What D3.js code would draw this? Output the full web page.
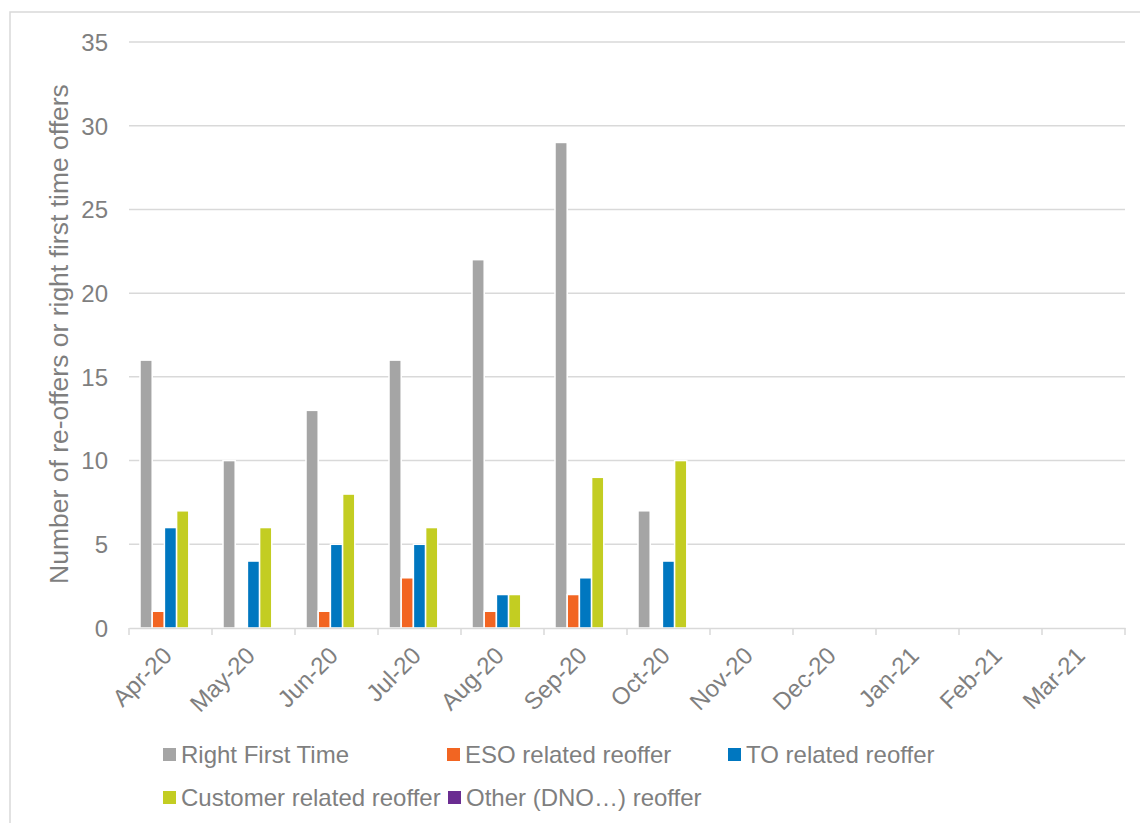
<!DOCTYPE html>
<html><head><meta charset="utf-8">
<script src="https://cdn.jsdelivr.net/npm/d3@7"></script>
<style>body{margin:0;background:#fff}svg{display:block}text{font-family:"Liberation Sans",Arial,sans-serif}</style>
</head><body>
<svg id="chart" width="1140" height="823"></svg>
<script>
const categories = ["Apr-20","May-20","Jun-20","Jul-20","Aug-20","Sep-20","Oct-20","Nov-20","Dec-20","Jan-21","Feb-21","Mar-21"];
const seriesNames = ["Right First Time","ESO related reoffer","TO related reoffer","Customer related reoffer","Other (DNO\u2026) reoffer"];
const seriesColors = ["#A5A5A5","#F26522","#0077C0","#C3CD22","#6A2C91"];
const rightFirstTime = [16,10,13,16,22,29,7,0,0,0,0,0];
const esoReoffer     = [1,0,1,3,1,2,0,0,0,0,0,0];
const toReoffer      = [6,4,5,5,2,3,4,0,0,0,0,0];
const customerReoffer= [7,6,8,6,2,9,10,0,0,0,0,0];
const otherReoffer   = [0,0,0,0,0,0,0,0,0,0,0,0];
const yTicks = [0,5,10,15,20,25,30,35];
const allSeries = [rightFirstTime, esoReoffer, toReoffer, customerReoffer, otherReoffer];

const svg = d3.select("#chart");
const textColor = "#7F7F7F", gridColor = "#D9D9D9";
const L = 129, R = 1125, T = 42, B = 628;

svg.append("rect").attr("x",10).attr("y",12).attr("width",1200).attr("height",900)
  .attr("fill","none").attr("stroke",gridColor).attr("stroke-width",1.5);

const x0 = d3.scaleBand().domain(categories).range([L,R]).padding(0);
const gap = 22;
const x1 = d3.scaleBand().domain(d3.range(seriesNames.length)).range([gap/2, x0.bandwidth()-gap/2]).padding(0);
const y = d3.scaleLinear().domain([0,35]).range([B,T]);

// gridlines
svg.append("g").selectAll("line").data(yTicks.filter(d=>d>0)).join("line")
  .attr("x1",L).attr("x2",R).attr("y1",d=>y(d)).attr("y2",d=>y(d))
  .attr("stroke",gridColor).attr("stroke-width",1.5);

// y axis labels
const yAxis = d3.axisLeft(y).tickValues(yTicks).tickSize(0).tickPadding(0);
const yg = svg.append("g").attr("transform",`translate(${L-21},0)`).call(yAxis);
yg.select(".domain").remove();
yg.selectAll("text").attr("fill",textColor).style("font-size","24px").attr("dy","0.35em");

// bars
const groups = svg.append("g").selectAll("g").data(categories).join("g")
  .attr("transform",d=>`translate(${x0(d)},0)`);
groups.selectAll("rect").data((c,i)=>allSeries.map((s,j)=>({j,v:s[i]})).filter(d=>d.v>0)).join("rect")
  .attr("x",d=>x1(d.j)).attr("width",x1.bandwidth())
  .attr("y",d=>y(d.v)).attr("height",d=>y(0)-y(d.v))
  .attr("fill",d=>seriesColors[d.j]).attr("stroke","#fff").attr("stroke-width",1.5);

// x axis
const xAxis = d3.axisBottom(x0).tickSize(0).tickPadding(0);
const xg = svg.append("g").attr("transform",`translate(0,${B})`).call(xAxis);
xg.select(".domain").attr("stroke",gridColor).attr("stroke-width",1.5);
xg.selectAll(".tick text").attr("fill",textColor).style("font-size","24px")
  .attr("text-anchor","end").attr("dy",null).attr("y",0)
  .attr("transform","translate(3,29) rotate(-45)");
svg.append("g").selectAll("line").data(categories.concat([null])).join("line")
  .attr("x1",(d,i)=>L+i*x0.bandwidth()).attr("x2",(d,i)=>L+i*x0.bandwidth())
  .attr("y1",B).attr("y2",B+7).attr("stroke",gridColor).attr("stroke-width",1.5);

// y title
svg.append("text").attr("transform","translate(68,334) rotate(-90)")
  .attr("text-anchor","middle").attr("fill",textColor).style("font-size","26.5px")
  .text("Number of re-offers or right first time offers");

// legend
const legendPos = [[163,755],[447,755],[728,755],[163,798],[448,798]];
const lg = svg.append("g").selectAll("g").data(seriesNames).join("g")
  .attr("transform",(d,i)=>`translate(${legendPos[i][0]},${legendPos[i][1]})`);
lg.append("rect").attr("x",0).attr("y",-7).attr("width",13).attr("height",13).attr("fill",(d,i)=>seriesColors[i]);
lg.append("text").attr("x",18).attr("y",0).attr("dy","0.35em").attr("fill",textColor).style("font-size","24px").text(d=>d);
</script>
</body></html>
